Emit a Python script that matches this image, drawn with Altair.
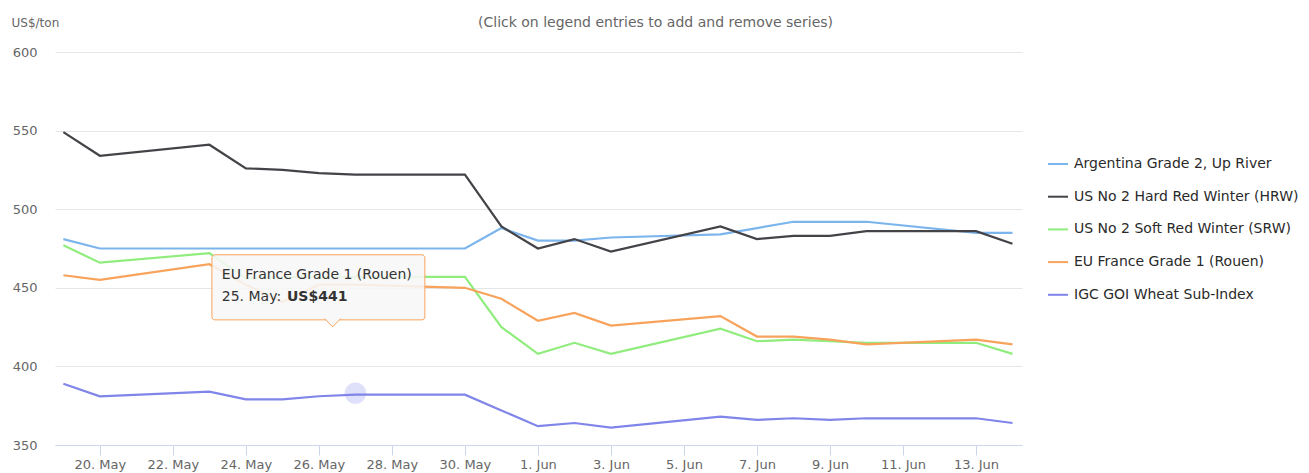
import altair as alt
import pandas as pd

# ---------------- data ----------------
dates = ["2022-05-19", "2022-05-20", "2022-05-23", "2022-05-24", "2022-05-25",
         "2022-05-26", "2022-05-27", "2022-05-30", "2022-05-31", "2022-06-01",
         "2022-06-02", "2022-06-03", "2022-06-06", "2022-06-07", "2022-06-08",
         "2022-06-09", "2022-06-10", "2022-06-13", "2022-06-14"]

series_names = ["Argentina Grade 2, Up River",
                "US No 2 Hard Red Winter (HRW)",
                "US No 2 Soft Red Winter (SRW)",
                "EU France Grade 1 (Rouen)",
                "IGC GOI Wheat Sub-Index"]
series_colors = ["#7cb5ec", "#434348", "#90ed7d", "#f7a35c", "#8085e9"]

argentina = [481, 475, 475, 475, 475, 475, 475, 475, 488, 480, 480, 482, 484, 488, 492, 492, 492, 485, 485]
hrw = [549, 534, 541, 526, 525, 523, 522, 522, 489, 475, 481, 473, 489, 481, 483, 483, 486, 486, 478]
srw = [477, 466, 472, 456, 457, 457, 457, 457, 425, 408, 415, 408, 424, 416, 417, 416, 415, 415, 408]
eu_france = [458, 455, 465, 452, 441, 452, 452, 450, 443, 429, 434, 426, 432, 419, 419, 417, 414, 417, 414]
igc = [389, 381, 384, 379, 379, 381, 382, 382, 372, 362, 364, 361, 368, 366, 367, 366, 367, 367, 364]

y_ticks = [350, 400, 450, 500, 550, 600]
x_tick_days = [(2022, 5, 20), (2022, 5, 22), (2022, 5, 24), (2022, 5, 26), (2022, 5, 28),
               (2022, 5, 30), (2022, 6, 1), (2022, 6, 3), (2022, 6, 5), (2022, 6, 7),
               (2022, 6, 9), (2022, 6, 11), (2022, 6, 13)]

chart_title = "(Click on legend entries to add and remove series)"
y_title = "US$/ton"

# hovered point + tooltip (as shown in the picture)
hover_date = ["2022-05-27"]
hover_value = [383]
tip_series = "EU France Grade 1 (Rouen)"
tip_date_label = "25. May: "
tip_value_label = "US$441"
tip_box_x = ["2022-05-23T01:40:00Z", "2022-05-28T21:40:00Z"]
tip_box_y = [471, 429.6]
tip_line1 = ["2022-05-23T08:10:00Z", 458.2]
tip_line2 = ["2022-05-23T08:10:00Z", 444.2]
tip_bold = ["2022-05-25T03:00:00Z", 444.2]
tip_pointer = ["2022-05-26T09:00:00Z", 429.6]

# ---------------- build tables ----------------
rows = []
for name, vals in zip(series_names, [argentina, hrw, srw, eu_france, igc]):
    for d, v in zip(dates, vals):
        rows.append({"date": d, "value": v, "series": name})
df = pd.DataFrame(rows)

FONT = "DejaVu Sans"

x_scale = alt.Scale(
    type="utc",
    domain=[alt.DateTime(year=2022, month=5, date=18, hours=18, minutes=30, utc=True),
            alt.DateTime(year=2022, month=6, date=14, hours=6, minutes=15, utc=True)],
)
y_scale = alt.Scale(domain=[350, 600], nice=False, zero=False)

x_axis = alt.Axis(
    values=[alt.DateTime(year=y, month=m, date=d, utc=True) for (y, m, d) in x_tick_days],
    labelExpr="utcFormat(datum.value, '%-d. %b')", title=None, grid=False,
    domainColor="#ccd6eb", tickColor="#ccd6eb", tickSize=10,
    labelColor="#666666", labelFontSize=13, labelFont=FONT, labelPadding=3,
)
y_axis = alt.Axis(
    values=y_ticks, title=y_title, titleAngle=0, titleX=-44, titleY=-30,
    titleAlign="left", titleBaseline="middle", titleColor="#666666",
    titleFontSize=12, titleFontWeight="normal", titleFont=FONT,
    grid=True, gridColor="#e6e6e6", domain=False, ticks=False,
    labelColor="#666666", labelFontSize=13, labelFont=FONT, labelPadding=18,
)

lines = alt.Chart(df).mark_line(strokeWidth=2.2).encode(
    x=alt.X("date:T", scale=x_scale, axis=x_axis),
    y=alt.Y("value:Q", scale=y_scale, axis=y_axis),
    color=alt.Color(
        "series:N",
        scale=alt.Scale(domain=series_names, range=series_colors),
        legend=alt.Legend(
            title=None, orient="none", legendX=992, legendY=101,
            symbolType="stroke", symbolSize=400, symbolStrokeWidth=2,
            labelFontSize=14, labelColor="#2a2a2a", labelFont=FONT,
            rowPadding=14.7, labelOffset=5, labelLimit=400,
        ),
    ),
    detail="series:N",
)

halo = alt.Chart(pd.DataFrame({"date": hover_date, "value": hover_value})).mark_circle(
    size=460, color="#8085e9", opacity=0.25
).encode(x="date:T", y="value:Q")

box = alt.Chart(pd.DataFrame({"x1": [tip_box_x[0]], "x2": [tip_box_x[1]],
                              "y1": [tip_box_y[0]], "y2": [tip_box_y[1]]})).mark_rect(
    fill="#f7f7f7", fillOpacity=0.88, stroke="#f7a35c", strokeWidth=1, cornerRadius=3
).encode(x="x1:T", x2="x2:T", y="y1:Q", y2="y2:Q")

pointer = alt.Chart(pd.DataFrame({"date": [tip_pointer[0]], "value": [tip_pointer[1]]})).mark_point(
    shape="M-1,-0.15L0,0.875L1,-0.15", size=256, filled=True, fill="#f7f7f7",
    fillOpacity=1, stroke="#f7a35c", strokeWidth=1, opacity=1
).encode(x="date:T", y="value:Q")

t1 = alt.Chart(pd.DataFrame({"date": [tip_line1[0]], "value": [tip_line1[1]], "t": [tip_series]})).mark_text(
    align="left", baseline="middle", fontSize=14, font=FONT, color="#333333"
).encode(x="date:T", y="value:Q", text="t:N")

t2 = alt.Chart(pd.DataFrame({"date": [tip_line2[0]], "value": [tip_line2[1]], "t": [tip_date_label]})).mark_text(
    align="left", baseline="middle", fontSize=14, font=FONT, color="#333333"
).encode(x="date:T", y="value:Q", text="t:N")

t3 = alt.Chart(pd.DataFrame({"date": [tip_bold[0]], "value": [tip_bold[1]], "t": [tip_value_label]})).mark_text(
    align="left", baseline="middle", fontSize=14, font=FONT, color="#333333", fontWeight="bold"
).encode(x="date:T", y="value:Q", text="t:N")

chart = alt.layer(lines, halo, box, pointer, t1, t2, t3).properties(
    width=967, height=393,
    title=alt.TitleParams(chart_title, anchor="middle", frame="group", dx=117,
                          fontSize=14, font=FONT, fontWeight="normal",
                          color="#666666", offset=0, dy=14),
    autosize=alt.AutoSizeParams(type="none"),
    padding={"left": 47, "top": 44, "right": 279, "bottom": 28},
).configure(font=FONT, background="white").configure_view(stroke=None)

chart.save("out.html", embed_options={"renderer": "svg", "actions": False})
